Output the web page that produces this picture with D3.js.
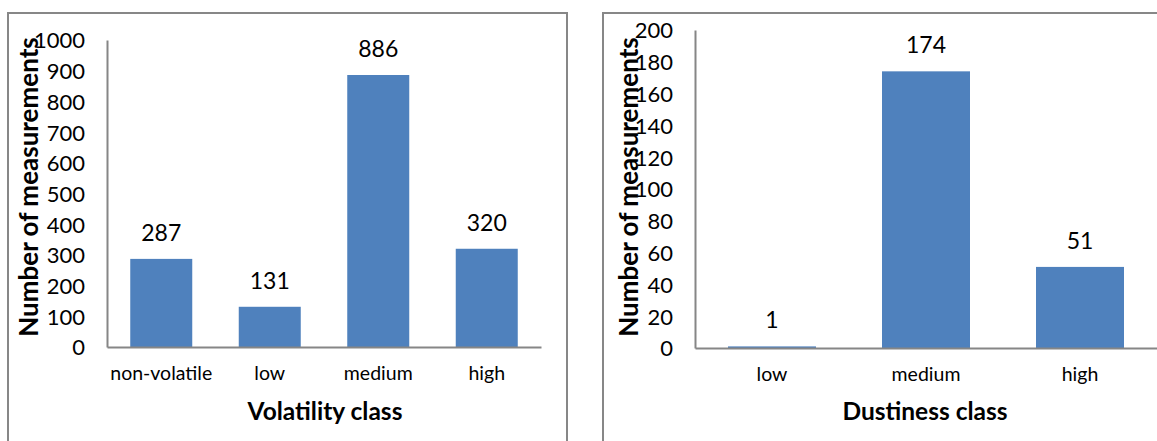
<!DOCTYPE html>
<html>
<head>
<meta charset="utf-8">
<script src="https://cdn.jsdelivr.net/npm/d3@7"></script>
<style>
  html, body { margin: 0; padding: 0; background: #fff; }
  svg text { font-family: Lato, "Open Sans", sans-serif; fill: #000; }
</style>
</head>
<body>
<svg id="chart" width="1157" height="441"></svg>
<script>
// Volatility class counts
const volatilityCategories = ["non-volatile", "low", "medium", "high"];
const volatilityValues = [287, 131, 886, 320];
const volatilityTicks = [0, 100, 200, 300, 400, 500, 600, 700, 800, 900, 1000];

// Dustiness class counts
const dustinessCategories = ["low", "medium", "high"];
const dustinessValues = [1, 174, 51];
const dustinessTicks = [0, 20, 40, 60, 80, 100, 120, 140, 160, 180, 200];

const svg = d3.select("#chart");
const barColor = "#4F81BD";
const axisColor = "#868686";
const gap = 1 - 1 / 1.75; // Excel-style 75% gap width

function panel(cfg) {
  const g = svg.append("g");

  // panel frame (runs off the bottom / right of the canvas)
  g.append("rect")
    .attr("x", cfg.frame[0]).attr("y", cfg.frame[1])
    .attr("width", cfg.frame[2]).attr("height", cfg.frame[3])
    .attr("fill", "none").attr("stroke", "#878787").attr("stroke-width", 2);

  const x = d3.scaleBand()
    .domain(cfg.categories)
    .range([cfg.left, cfg.right])
    .paddingInner(gap).paddingOuter(gap / 2);
  const y = d3.scaleLinear()
    .domain([0, cfg.ticks[cfg.ticks.length - 1]])
    .range([cfg.bottom, cfg.top]);

  const data = cfg.categories.map((c, i) => ({ c, v: cfg.values[i] }));

  // bars
  g.selectAll("rect.bar").data(data).join("rect")
    .attr("class", "bar")
    .attr("x", d => x(d.c))
    .attr("width", x.bandwidth())
    .attr("y", d => y(d.v))
    .attr("height", d => Math.max(1.5, y(0) - y(d.v)))
    .attr("fill", barColor);

  // value labels
  g.selectAll("text.val").data(data).join("text")
    .attr("class", "val")
    .attr("x", d => x(d.c) + x.bandwidth() / 2)
    .attr("y", d => y(d.v) - 18)
    .attr("text-anchor", "middle")
    .style("font-size", "23px")
    .text(d => d.v);

  // y axis
  const yAxis = d3.axisLeft(y).tickValues(cfg.ticks).tickFormat(d3.format("d"))
    .tickSize(0).tickPadding(22);
  const ya = g.append("g").attr("transform", `translate(${cfg.left},0)`).call(yAxis);
  ya.select(".domain").attr("stroke", axisColor).attr("stroke-width", 2);
  ya.selectAll("text").attr("dy", "0.36em")
    .style("font-size", "22px").style("font-family", "Lato, sans-serif").attr("fill", "#000");

  // x axis
  const xAxis = d3.axisBottom(x).tickSize(0).tickPadding(0);
  const xa = g.append("g").attr("transform", `translate(0,${cfg.bottom})`).call(xAxis);
  xa.select(".domain").attr("stroke", axisColor).attr("stroke-width", 2);
  xa.selectAll("text")
    .attr("y", 33).attr("dy", null)
    .style("font-size", "19.5px").style("font-family", "Lato, sans-serif").attr("fill", "#000");

  // axis titles
  g.append("text")
    .attr("x", (cfg.left + cfg.right) / 2 + cfg.titleShift)
    .attr("y", 420)
    .attr("text-anchor", "middle")
    .style("font-size", "24.5px").style("font-weight", "bold")
    .text(cfg.xTitle);

  g.append("text")
    .attr("transform", `translate(${cfg.yTitleX},187) rotate(-90)`)
    .attr("text-anchor", "middle")
    .style("font-size", "26px").style("font-weight", "bold")
    .text("Number of measurements");
}

panel({
  frame: [8, 13, 559, 460],
  categories: volatilityCategories, values: volatilityValues, ticks: volatilityTicks,
  left: 107, right: 541, top: 40, bottom: 347,
  xTitle: "Volatility class", titleShift: 1, yTitleX: 38
});

panel({
  frame: [603, 13, 600, 460],
  categories: dustinessCategories, values: dustinessValues, ticks: dustinessTicks,
  left: 695, right: 1157, top: 30, bottom: 348,
  xTitle: "Dustiness class", titleShift: -1, yTitleX: 638
});
</script>
</body>
</html>
